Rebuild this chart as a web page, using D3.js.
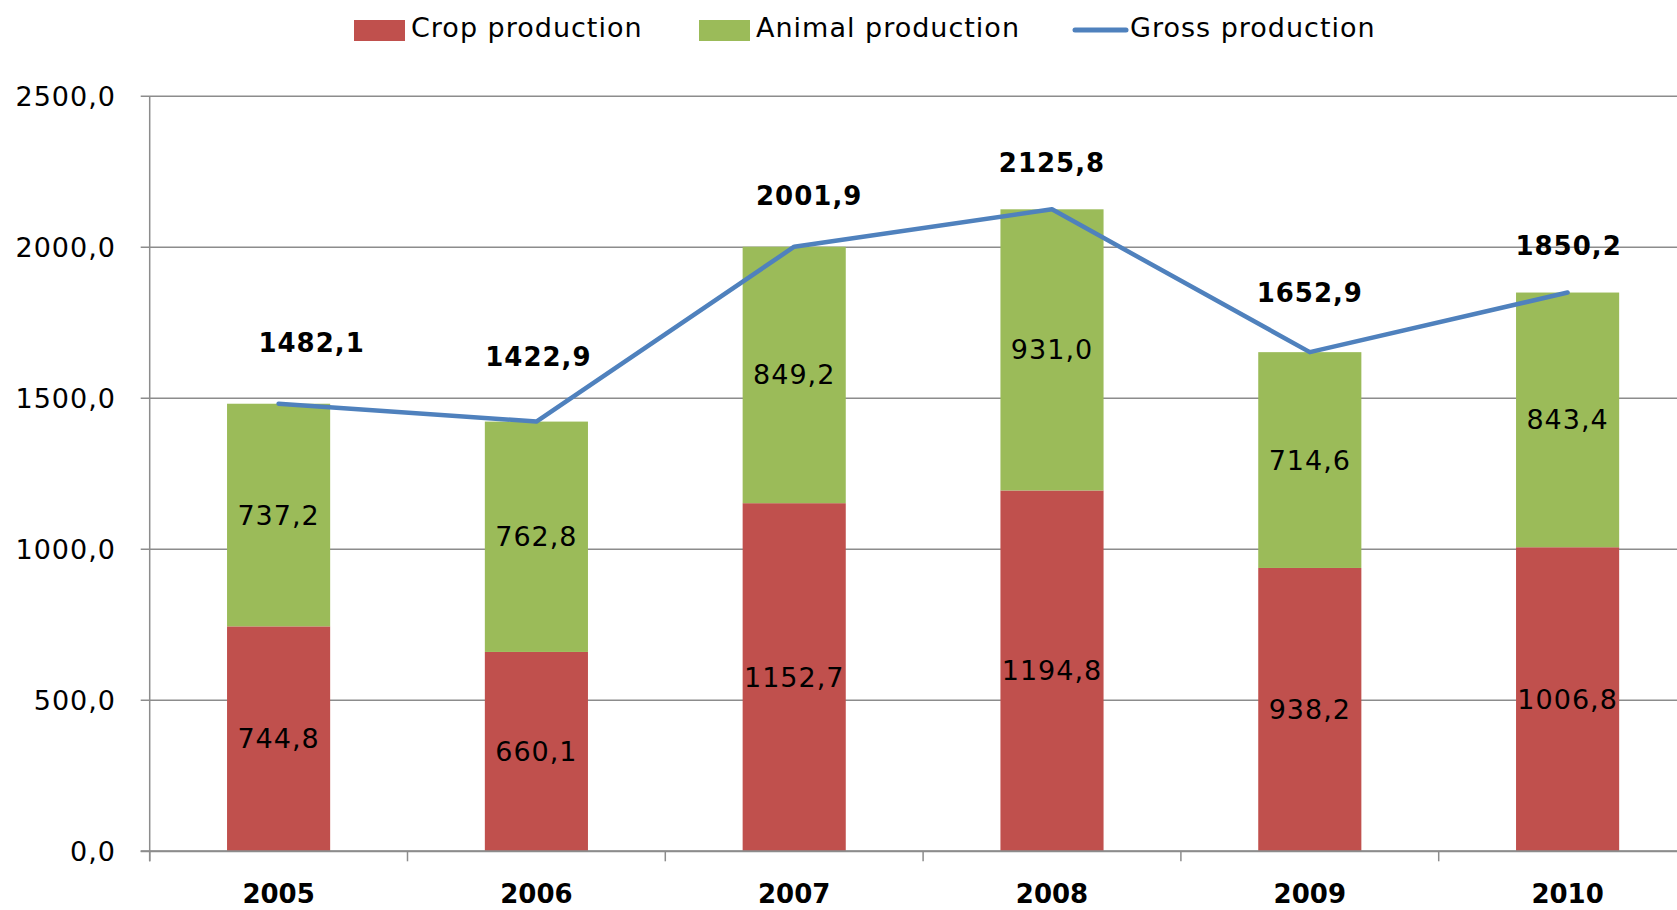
<!DOCTYPE html>
<html>
<head>
<meta charset="utf-8">
<script src="https://cdn.jsdelivr.net/npm/d3@7"></script>
<style>
  body { margin: 0; background: #fff; }
  svg text { font-family: "DejaVu Sans", sans-serif; fill: #000; }
</style>
</head>
<body>
<svg></svg>
<script>
var years = ["2005", "2006", "2007", "2008", "2009", "2010"];
var crop = [744.8, 660.1, 1152.7, 1194.8, 938.2, 1006.8];
var animal = [737.2, 762.8, 849.2, 931.0, 714.6, 843.4];
var gross = [1482.1, 1422.9, 2001.9, 2125.8, 1652.9, 1850.2];
var yTicks = [0, 500, 1000, 1500, 2000, 2500];

// label nudges for the totals (pixels), as placed in the original
var totalDx = [33, 2, 15, 0, 0, 1];
var totalDy = [61, 65, 51, 46, 59, 47];

var width = 1677;
var height = 910;
var svg = d3.select("svg").attr("width", width).attr("height", height);

var colors = { crop: "#C0504D", animal: "#9BBB59", gross: "#4F81BD" };

var fmt = function(v) {
  return d3.format(".1f")(v).replace(".", ",");
};

var left = 149.7;
var band = 257.8;

var xScale = d3
  .scaleBand()
  .domain(years.concat(["_"]))
  .range([left, left + band * 7])
  .paddingInner(0.6)
  .paddingOuter(0.3);

var yScale = d3
  .scaleLinear()
  .domain([0, 2500])
  .range([851.3, 96.3]);

var cx = function(i) {
  return xScale(years[i]) + xScale.bandwidth() / 2;
};

// gridlines
svg
  .append("g")
  .selectAll("line")
  .data(yTicks)
  .enter()
  .append("line")
  .attr("x1", left - 9)
  .attr("x2", width)
  .attr("y1", d => yScale(d))
  .attr("y2", d => yScale(d))
  .attr("stroke", "#8c8c8c")
  .attr("stroke-width", 1.5);

// y labels
svg
  .append("g")
  .selectAll("text")
  .data(yTicks)
  .enter()
  .append("text")
  .attr("x", 116)
  .attr("y", d => yScale(d))
  .attr("text-anchor", "end")
  .attr("dominant-baseline", "central")
  .style("font-size", "27px")
  .style("letter-spacing", "1px")
  .text(d => fmt(d));

// bars
var stacked = years.map((y, i) => ({ i: i, crop: crop[i], animal: animal[i] }));

svg
  .append("g")
  .selectAll("rect")
  .data(stacked)
  .enter()
  .append("rect")
  .attr("x", d => xScale(years[d.i]))
  .attr("width", xScale.bandwidth())
  .attr("y", d => yScale(d.crop))
  .attr("height", d => yScale(0) - yScale(d.crop))
  .attr("fill", colors.crop);

svg
  .append("g")
  .selectAll("rect")
  .data(stacked)
  .enter()
  .append("rect")
  .attr("x", d => xScale(years[d.i]))
  .attr("width", xScale.bandwidth())
  .attr("y", d => yScale(d.crop + d.animal))
  .attr("height", d => yScale(d.crop) - yScale(d.crop + d.animal))
  .attr("fill", colors.animal);

// axes lines
svg
  .append("line")
  .attr("x1", left)
  .attr("x2", left)
  .attr("y1", yScale(2500))
  .attr("y2", yScale(0) + 10)
  .attr("stroke", "#8c8c8c")
  .attr("stroke-width", 1.5);

svg
  .append("line")
  .attr("x1", left - 9)
  .attr("x2", width)
  .attr("y1", yScale(0))
  .attr("y2", yScale(0))
  .attr("stroke", "#8c8c8c")
  .attr("stroke-width", 2);

svg
  .append("g")
  .selectAll("line")
  .data(d3.range(years.length + 1))
  .enter()
  .append("line")
  .attr("x1", d => left + d * band)
  .attr("x2", d => left + d * band)
  .attr("y1", yScale(0))
  .attr("y2", yScale(0) + 10)
  .attr("stroke", "#8c8c8c")
  .attr("stroke-width", 1.5);

// x labels
svg
  .append("g")
  .selectAll("text")
  .data(years)
  .enter()
  .append("text")
  .attr("x", (d, i) => cx(i))
  .attr("y", 894)
  .attr("text-anchor", "middle")
  .attr("dominant-baseline", "central")
  .style("font-size", "26px")
  .style("font-weight", "bold")
  .text(d => d);

// gross line
var line = d3
  .line()
  .x((d, i) => cx(i))
  .y(d => yScale(d));

svg
  .append("path")
  .datum(gross)
  .attr("d", line)
  .attr("fill", "none")
  .attr("stroke", colors.gross)
  .attr("stroke-width", 4.5)
  .attr("stroke-linecap", "round")
  .attr("stroke-linejoin", "round");

// value labels
svg
  .append("g")
  .selectAll("text")
  .data(stacked)
  .enter()
  .append("text")
  .attr("x", d => cx(d.i))
  .attr("y", d => yScale(d.crop / 2))
  .attr("text-anchor", "middle")
  .attr("dominant-baseline", "central")
  .style("font-size", "27px")
  .style("letter-spacing", "1px")
  .text(d => fmt(d.crop));

svg
  .append("g")
  .selectAll("text")
  .data(stacked)
  .enter()
  .append("text")
  .attr("x", d => cx(d.i))
  .attr("y", d => yScale(d.crop + d.animal / 2))
  .attr("text-anchor", "middle")
  .attr("dominant-baseline", "central")
  .style("font-size", "27px")
  .style("letter-spacing", "1px")
  .text(d => fmt(d.animal));

svg
  .append("g")
  .selectAll("text")
  .data(gross)
  .enter()
  .append("text")
  .attr("x", (d, i) => cx(i) + totalDx[i])
  .attr("y", (d, i) => yScale(d) - totalDy[i])
  .attr("text-anchor", "middle")
  .attr("dominant-baseline", "central")
  .style("font-size", "26px")
  .style("font-weight", "bold")
  .style("letter-spacing", "1px")
  .text(d => fmt(d));

// legend
var legend = [
  { name: "Crop production", type: "rect", color: colors.crop, x: 354 },
  { name: "Animal production", type: "rect", color: colors.animal, x: 699 },
  { name: "Gross production", type: "line", color: colors.gross, x: 1073 }
];

var lg = svg
  .append("g")
  .selectAll("g")
  .data(legend)
  .enter()
  .append("g")
  .attr("transform", d => "translate(" + d.x + ",0)");

lg.filter(d => d.type === "rect")
  .append("rect")
  .attr("x", 0)
  .attr("y", 20)
  .attr("width", 51)
  .attr("height", 21)
  .attr("fill", d => d.color);

lg.filter(d => d.type === "line")
  .append("line")
  .attr("x1", 2)
  .attr("x2", 53)
  .attr("y1", 30)
  .attr("y2", 30)
  .attr("stroke", d => d.color)
  .attr("stroke-width", 5)
  .attr("stroke-linecap", "round");

lg.append("text")
  .attr("x", d => (d.type === "line" ? 57 : 57))
  .attr("y", 27)
  .attr("dominant-baseline", "central")
  .style("font-size", "27px")
  .style("letter-spacing", "1px")
  .text(d => d.name);
</script>
</body>
</html>
